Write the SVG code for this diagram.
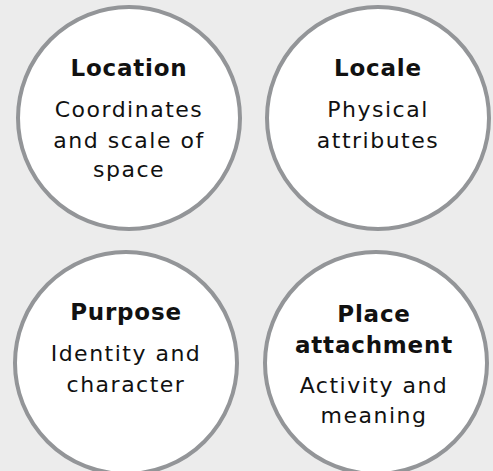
<svg xmlns="http://www.w3.org/2000/svg" width="493" height="471" viewBox="0 0 493 471">
<style>
.bg{fill:#ececec}
.c{fill:#ffffff;stroke:#939598;stroke-width:4}
text{font-family:"DejaVu Sans","Liberation Sans",sans-serif;font-size:22px;fill:#111;text-anchor:middle;letter-spacing:1.5px}
.h{font-weight:bold;font-size:23px;letter-spacing:0.8px}
</style>
<rect class="bg" x="0" y="0" width="493" height="471"/>
<g id="location">
<circle class="c" cx="129" cy="118" r="111"/>
<text class="h" x="129" y="76">Location</text>
<text x="129" y="117">Coordinates</text>
<text x="129" y="148">and scale of</text>
<text x="129" y="177">space</text>
</g>
<g id="locale">
<circle class="c" cx="378" cy="118" r="111"/>
<text class="h" x="378" y="76">Locale</text>
<text x="378" y="117">Physical</text>
<text x="378" y="148">attributes</text>
</g>
<g id="purpose">
<circle class="c" cx="126" cy="363" r="111"/>
<text class="h" x="126" y="320">Purpose</text>
<text x="126" y="361">Identity and</text>
<text x="126" y="392">character</text>
</g>
<g id="place-attachment">
<circle class="c" cx="376" cy="363" r="111"/>
<text class="h" x="374" y="322">Place</text>
<text class="h" x="374" y="353">attachment</text>
<text x="374" y="393">Activity and</text>
<text x="374" y="423">meaning</text>
</g>
<g id="connectors"/>
</svg>
